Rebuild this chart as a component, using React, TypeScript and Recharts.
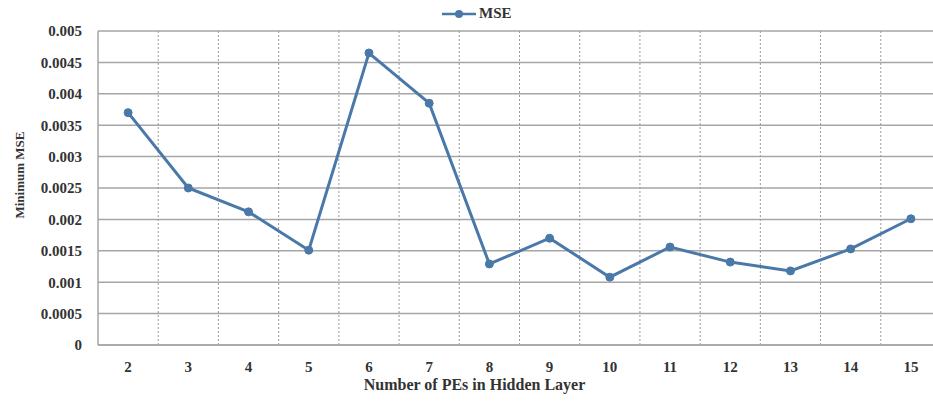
import React from "react";
import { LineChart, Line, XAxis, YAxis, CartesianGrid, Legend } from "recharts";

const peCounts = ["2", "3", "4", "5", "6", "7", "8", "9", "10", "11", "12", "13", "14", "15"];
const minMse = [0.0037, 0.0025, 0.00212, 0.00151, 0.00465, 0.00385, 0.00129, 0.0017, 0.00108, 0.00156, 0.00132, 0.00118, 0.00153, 0.00201];
const yTicks = [0, 0.0005, 0.001, 0.0015, 0.002, 0.0025, 0.003, 0.0035, 0.004, 0.0045, 0.005];

const data = peCounts.map((pe, i) => ({ pe, mse: minMse[i] }));

const FONT = '"Liberation Serif", "Times New Roman", serif';
const LINE = "#4a78a8";
const GRID = "#a6a6a6";
const TEXT = "#333333";

const LegendContent = () => (
  <div style={{ display: "flex", alignItems: "center", fontFamily: FONT, fontWeight: "bold", fontSize: 15, color: TEXT }}>
    <svg width={34} height={10}>
      <line x1={0} y1={5} x2={34} y2={5} stroke={LINE} strokeWidth={2.5} />
      <circle cx={17} cy={5} r={4} fill={LINE} />
    </svg>
    <span style={{ marginLeft: 3 }}>MSE</span>
  </div>
);

const YTitle = ({ viewBox }: any) => {
  const x = 19;
  const y = viewBox.y + viewBox.height / 2 - 13;
  return (
    <text
      x={x}
      y={y}
      transform={`rotate(-90 ${x} ${y})`}
      textAnchor="middle"
      dominantBaseline="central"
      fontFamily={FONT}
      fontWeight="bold"
      fontSize={13}
      fill={TEXT}
    >
      Minimum MSE
    </text>
  );
};

export default function App() {
  const tickStyle = { fontFamily: FONT, fontWeight: "bold", fontSize: 15, fill: TEXT };
  return (
    <div style={{ position: "absolute", left: 0, top: 0, width: 933, height: 401, overflow: "hidden", background: "#fff" }}>
      <LineChart width={960} height={401} data={data} margin={{ top: 31, right: 19, left: 0, bottom: 6 }}>
        <CartesianGrid vertical={false} stroke={GRID} strokeWidth={1.5} />
        <CartesianGrid
          horizontal={false}
          stroke="#999999"
          strokeDasharray="2 2"
          verticalCoordinatesGenerator={({ offset }: any) =>
            peCounts.map((_, i) => offset.left + ((i + 1) * offset.width) / peCounts.length)
          }
        />
        <XAxis
          dataKey="pe"
          height={50}
          padding={{ left: 30.1, right: 30.1 }}
          tickLine={false}
          tickSize={6}
          tickMargin={10}
          axisLine={{ stroke: GRID, strokeWidth: 1.5 }}
          tick={tickStyle}
          interval={0}
          label={{
            value: "Number of PEs in Hidden Layer",
            position: "insideBottom",
            offset: 5,
            dx: -45,
            style: { fontFamily: FONT, fontWeight: "bold", fontSize: 16, fill: TEXT },
          }}
        />
        <YAxis
          width={98}
          domain={[0, 0.005]}
          ticks={yTicks}
          interval={0}
          tickLine={false}
          tickSize={6}
          tickMargin={10}
          axisLine={{ stroke: GRID, strokeWidth: 1.5 }}
          tick={tickStyle}
          label={<YTitle />}
        />
        <Legend
          layout="horizontal"
          verticalAlign="middle"
          align="center"
          content={<LegendContent />}
          wrapperStyle={{ top: 5, left: 442, width: "auto", height: "auto" }}
        />
        <Line
          type="linear"
          dataKey="mse"
          name="MSE"
          stroke={LINE}
          strokeWidth={3}
          dot={{ r: 4, fill: LINE, stroke: LINE, strokeWidth: 1 }}
          activeDot={false}
          isAnimationActive={false}
        />
      </LineChart>
    </div>
  );
}
